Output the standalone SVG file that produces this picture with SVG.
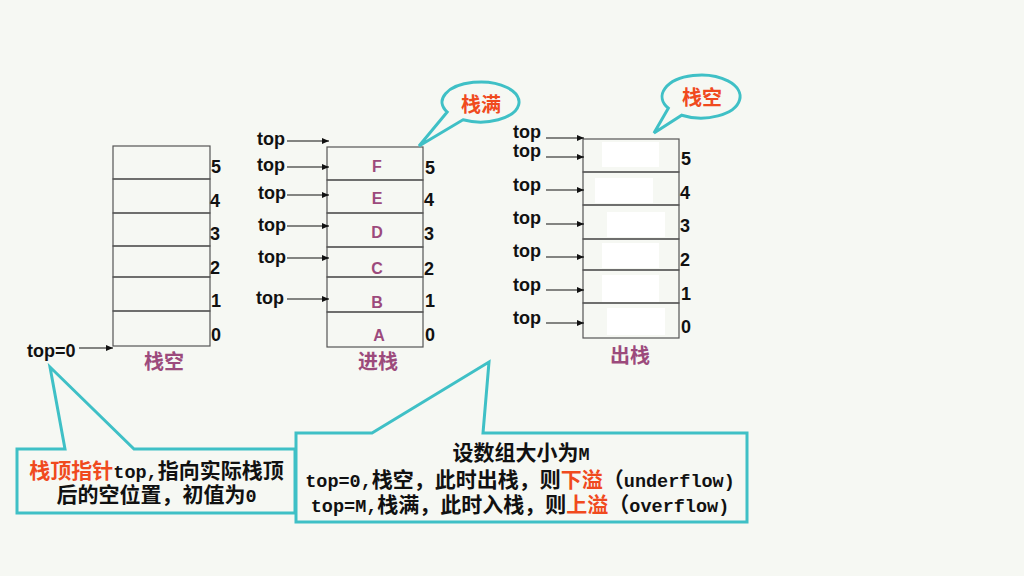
<svg xmlns="http://www.w3.org/2000/svg" width="1024" height="576" viewBox="0 0 1024 576">
<style>
.cell{fill:none;stroke:#555;stroke-width:1.2}
.lbl{font-family:"Liberation Sans",Arial,sans-serif;font-weight:bold;font-size:18px;fill:#111}
.idx{font-family:"Liberation Sans",Arial,sans-serif;font-weight:bold;font-size:18px;fill:#111}
.let{font-family:"Liberation Sans",Arial,sans-serif;font-weight:bold;font-size:16px;fill:#9C4A7C;text-anchor:middle}
.cap{font-family:"Noto Sans CJK SC",sans-serif;font-weight:bold;font-size:20px;fill:#9C4A7C;text-anchor:middle}
.bub{fill:#F6F8F3;stroke:#3FC0C6;stroke-width:3;stroke-linejoin:miter}
.btxt{font-family:"Noto Sans CJK SC",sans-serif;font-weight:bold;font-size:20px;fill:#F04A1E;text-anchor:middle}
.note{font-family:"Liberation Mono","Noto Sans CJK SC",monospace;font-weight:bold;font-size:21px;fill:#111;text-anchor:middle}
.lat{font-size:18.5px}
.red{fill:#F04A1E}
.arr{stroke:#111;stroke-width:1.2;fill:none;marker-end:url(#ah)}
.wp{fill:#FFFFFF}
</style>
<defs>
<marker id="ah" markerUnits="userSpaceOnUse" markerWidth="8" markerHeight="8" refX="7" refY="4" orient="auto">
<path d="M0,1 L7,4 L0,7 Z" fill="#111"/>
</marker>
</defs>
<rect x="0" y="0" width="1024" height="576" fill="#F6F8F3"/>

<g id="stack-empty">
<rect class="cell" x="113" y="146" width="97" height="33"/>
<rect class="cell" x="113" y="179" width="97" height="34"/>
<rect class="cell" x="113" y="213" width="97" height="33"/>
<rect class="cell" x="113" y="246" width="97" height="31"/>
<rect class="cell" x="113" y="277" width="97" height="34"/>
<rect class="cell" x="113" y="311" width="97" height="35"/>
<text class="idx" x="211" y="173">5</text>
<text class="idx" x="210" y="207">4</text>
<text class="idx" x="210" y="240">3</text>
<text class="idx" x="210" y="274">2</text>
<text class="idx" x="211" y="307">1</text>
<text class="idx" x="211" y="341">0</text>
<text class="lbl" x="27" y="357">top=0</text>
<text class="cap" x="164" y="369">栈空</text>
</g>

<g id="stack-push">
<rect class="cell" x="327" y="147" width="96" height="33"/>
<rect class="cell" x="327" y="180" width="96" height="33"/>
<rect class="cell" x="327" y="213" width="96" height="34"/>
<rect class="cell" x="327" y="247" width="96" height="30"/>
<rect class="cell" x="327" y="277" width="96" height="35"/>
<rect class="cell" x="327" y="312" width="96" height="35"/>
<text class="let" x="377" y="172">F</text>
<text class="let" x="377" y="204">E</text>
<text class="let" x="377" y="238">D</text>
<text class="let" x="377" y="274">C</text>
<text class="let" x="377" y="308">B</text>
<text class="let" x="379" y="341">A</text>
<text class="idx" x="425" y="174">5</text>
<text class="idx" x="424" y="206">4</text>
<text class="idx" x="424" y="240">3</text>
<text class="idx" x="424" y="275">2</text>
<text class="idx" x="425" y="307">1</text>
<text class="idx" x="425" y="341">0</text>
<text class="lbl" x="257" y="145">top</text>
<text class="lbl" x="257" y="171">top</text>
<text class="lbl" x="258" y="199">top</text>
<text class="lbl" x="258" y="231">top</text>
<text class="lbl" x="258" y="263">top</text>
<text class="lbl" x="256" y="304">top</text>
<text class="cap" x="378" y="369">进栈</text>
</g>

<g id="stack-pop">
<rect class="wp" x="602" y="142" width="57" height="25"/>
<rect class="wp" x="595" y="178" width="58" height="25"/>
<rect class="wp" x="607" y="212" width="58" height="25"/>
<rect class="wp" x="602" y="243" width="57" height="25"/>
<rect class="wp" x="602" y="275" width="57" height="27"/>
<rect class="wp" x="607" y="308" width="58" height="27"/>
<rect class="cell" x="583" y="139" width="96" height="33"/>
<rect class="cell" x="583" y="172" width="96" height="33"/>
<rect class="cell" x="583" y="205" width="96" height="34"/>
<rect class="cell" x="583" y="239" width="96" height="31"/>
<rect class="cell" x="583" y="270" width="96" height="33"/>
<rect class="cell" x="583" y="303" width="96" height="35"/>
<text class="idx" x="681" y="165">5</text>
<text class="idx" x="680" y="199">4</text>
<text class="idx" x="680" y="232">3</text>
<text class="idx" x="680" y="266">2</text>
<text class="idx" x="681" y="300">1</text>
<text class="idx" x="681" y="333">0</text>
<text class="lbl" x="513" y="138">top</text>
<text class="lbl" x="513" y="157">top</text>
<text class="lbl" x="513" y="191">top</text>
<text class="lbl" x="513" y="224">top</text>
<text class="lbl" x="513" y="257">top</text>
<text class="lbl" x="513" y="291">top</text>
<text class="lbl" x="513" y="324">top</text>
<text class="cap" x="630" y="363">出栈</text>
</g>

<g id="connectors">
<line class="arr" x1="79" y1="348" x2="113" y2="348"/>
<line class="arr" x1="287" y1="141" x2="329" y2="141"/>
<line class="arr" x1="287" y1="167" x2="329" y2="167"/>
<line class="arr" x1="287" y1="195" x2="329" y2="195"/>
<line class="arr" x1="287" y1="226" x2="329" y2="226"/>
<line class="arr" x1="287" y1="258" x2="329" y2="258"/>
<line class="arr" x1="287" y1="299" x2="329" y2="299"/>
<line class="arr" x1="546" y1="138" x2="584" y2="138"/>
<line class="arr" x1="546" y1="157" x2="584" y2="157"/>
<line class="arr" x1="546" y1="190" x2="584" y2="190"/>
<line class="arr" x1="546" y1="224" x2="584" y2="224"/>
<line class="arr" x1="546" y1="257" x2="584" y2="257"/>
<line class="arr" x1="546" y1="290" x2="584" y2="290"/>
<line class="arr" x1="546" y1="323" x2="584" y2="323"/>
</g>

<g id="bubble-full">
<path class="bub" d="M447.2,112 L419,146 L463,119.8 A38.5 20 0 1 0 447.2,112 Z"/>
<text class="btxt" x="481" y="112">栈满</text>
</g>

<g id="bubble-empty">
<path class="bub" d="M668.3,108.2 L654,133 L681.7,115.2 A39 21.5 0 1 0 668.3,108.2 Z"/>
<text class="btxt" x="702" y="105">栈空</text>
</g>

<g id="note-pointer">
<path class="bub" d="M17,449 L65,449 L50,367 L134,449 L295,449 L295,513 L17,513 Z"/>
<text class="note" x="156.5" y="478"><tspan class="red">栈顶指针</tspan><tspan class="lat">top,</tspan>指向实际栈顶</text>
<text class="note" x="156.5" y="502">后的空位置，初值为<tspan class="lat">0</tspan></text>
</g>

<g id="note-overflow">
<path class="bub" d="M296,433 L372,433 L489,362 L483,433 L747,433 L747,522 L296,522 Z"/>
<text class="note" x="521" y="460">设数组大小为<tspan class="lat">M</tspan></text>
<text class="note" x="520" y="487"><tspan class="lat">top=0,</tspan>栈空，此时出栈，则<tspan class="red">下溢</tspan>（<tspan class="lat">underflow)</tspan></text>
<text class="note" x="520" y="512"><tspan class="lat">top=M,</tspan>栈满，此时入栈，则<tspan class="red">上溢</tspan>（<tspan class="lat">overflow)</tspan></text>
</g>
</svg>
